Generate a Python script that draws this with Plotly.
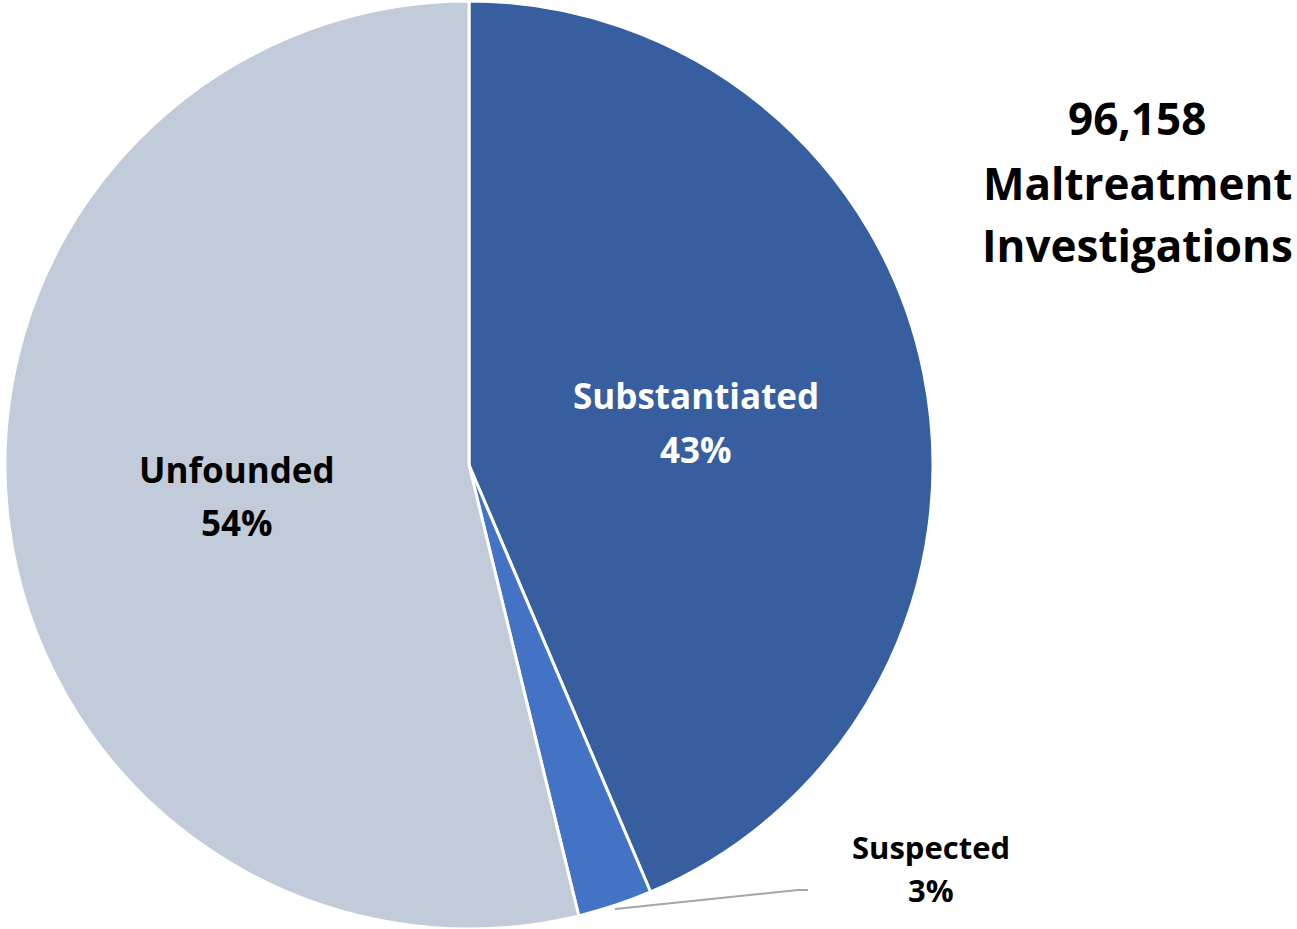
import plotly.graph_objects as go

W, H = 1297, 929

# Data
categories = ["Substantiated", "Suspected", "Unfounded"]
shares = [43.6, 2.6, 53.8]           # share of investigations (%)
share_labels = ["43%", "3%", "54%"]  # labels as printed on the chart
colors = ["#375E9F", "#4472C4", "#C1CBD9"]
total_label = ["96,158", "Maltreatment", "Investigations"]

FONT = "Open Sans"

def px(x):
    return x / W

def py(y):
    return 1 - y / H

fig = go.Figure()
fig.add_trace(go.Pie(
    labels=categories,
    values=shares,
    sort=False,
    direction="clockwise",
    rotation=0,
    marker=dict(colors=colors, line=dict(color="white", width=3)),
    textinfo="none",
    hoverinfo="label+percent",
    showlegend=False,
    domain=dict(x=[px(469 - 465), px(469 + 465)], y=[0, py(1)]),
))

annotations = []
# Slice labels (name line + percent line)
label_pos = {
    "Substantiated": (696, 396, 449, "white", 35),
    "Unfounded": (237, 469, 522, "black", 35),
    "Suspected": (931, 847, 890, "black", 31),
}
for cat, lab in zip(categories, share_labels):
    x, y1, y2, col, size = label_pos[cat]
    for txt, yy in ((cat, y1), (lab, y2)):
        annotations.append(dict(
            x=px(x), y=py(yy), xref="paper", yref="paper",
            text="<b>%s</b>" % txt, showarrow=False,
            xanchor="center", yanchor="middle",
            font=dict(family=FONT, size=size, color=col),
        ))

# Total annotation
for txt, yy in zip(total_label, (118, 183, 245)):
    annotations.append(dict(
        x=px(1137), y=py(yy), xref="paper", yref="paper",
        text="<b>%s</b>" % txt, showarrow=False,
        xanchor="center", yanchor="middle",
        font=dict(family=FONT, size=44, color="black"),
    ))

fig.update_layout(
    width=W, height=H,
    margin=dict(l=0, r=0, t=0, b=0),
    paper_bgcolor="white",
    plot_bgcolor="white",
    annotations=annotations,
    shapes=[dict(
        type="path", xref="paper", yref="paper",
        path="M %f,%f L %f,%f L %f,%f" % (px(615), py(909), px(798), py(890), px(808), py(890)),
        line=dict(color="#A6A6A6", width=2),
    )],
)

fig.write_html("out.html", config={"displayModeBar": False},
               post_script="document.body.style.margin='0px';")
